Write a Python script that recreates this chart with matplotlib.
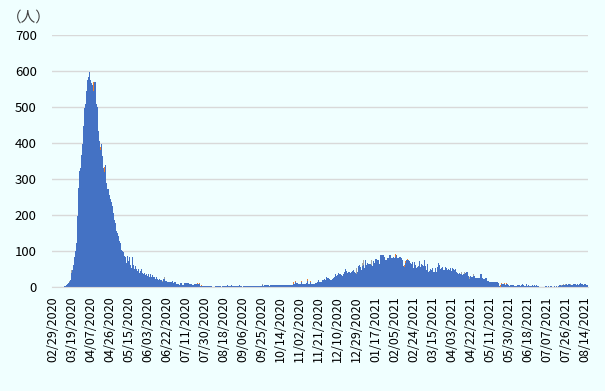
import numpy as np
import pandas as pd
import matplotlib
matplotlib.use('Agg')
import matplotlib.pyplot as plt

plt.rcParams['font.family'] = ['Noto Sans CJK JP', 'DejaVu Sans']

# daily counts from 02/29/2020
start_date = '2020-02-29'
blue_vals = [
    0, 0, 0, 0, 0, 0, 0, 0, 0, 0, 0, 1, 2, 3,
    # spring 2020 wave
    5, 8, 10, 14, 19, 40, 47, 60, 83, 100, 123, 197, 275, 322, 330, 366, 396, 447,
    498, 507, 544, 576, 582, 598, 576, 566, 562, 544, 570, 570, 507, 500, 433, 405,
    380, 398, 363, 331, 320, 339, 289, 271, 271,
    255, 245, 237, 224, 206, 187, 179, 155, 151, 141, 127, 123, 104, 101, 96, 86,
    82, 68, 86, 72, 84, 62, 54, 84, 62, 50, 59, 50, 44, 50, 39, 44, 50, 39, 35, 39,
    32, 37, 30, 37, 27, 35, 29, 32, 27, 27, 21, 29, 23, 19, 23, 19, 19, 13, 21, 22,
    # summer / autumn 2020
    18, 18, 14, 14, 14, 13, 13, 16, 11, 15, 15, 8, 8, 8, 5, 12, 12, 5, 5, 11, 11,
    11, 11, 11, 8, 8, 8, 5, 5, 7, 7, 7, 7, 7, 8, 4, 3, 3, 3, 3, 4, 4, 2, 2, 2, 3, 3,
    1, 0, 1, 2, 2, 3, 3, 3, 2, 0, 2, 2, 4, 4, 4, 6, 3, 3, 3, 5, 4, 4, 4, 2, 4, 4, 4,
    6, 2, 2, 0, 3, 3, 3, 4, 4, 4, 4, 4, 4, 4, 4, 4,
    4, 4, 4, 4, 4, 2, 2, 6, 4, 6, 5, 5, 6, 6, 2, 5, 5, 5, 5, 6, 6, 6, 6, 6, 6, 6,
    6, 6, 6, 5, 5, 5, 5, 6, 6, 6, 6, 6, 9, 9, 13, 12, 12, 7, 7, 8, 13, 7, 7, 8, 7,
    10, 16, 8, 8, 13, 9, 9, 8, 8, 10, 10, 13, 19, 15, 15, 15, 19, 19, 23, 19, 28,
    26, 26, 23, 19, 19, 23, 26, 28, 35, 30, 33, 39, 36, 36, 32, 30, 37, 41, 51, 44,
    40, 42, 42,
    # winter 2020-21 wave
    39, 41, 44, 46, 41, 39, 37, 41, 57, 60, 55, 46, 59, 60, 53, 75, 62, 67, 65, 65,
    65, 62, 57, 71, 67, 79, 79, 76, 76, 65, 88, 90, 88, 88, 84, 76, 75, 81, 80, 90,
    88, 81, 81, 84, 81, 82, 88, 81, 81, 84, 82, 81, 75, 57, 56, 66, 76, 75, 76, 71,
    67, 65, 69, 53, 69, 62, 53, 55, 57, 71, 55, 65, 62, 57, 75, 57, 46, 64, 42, 44,
    51, 48, 54, 41, 43, 53, 43, 55, 67, 62, 51, 53, 55, 48, 48,
    # spring / summer 2021
    55, 54, 48, 49, 46, 53, 44, 52, 49, 46, 49, 41, 39, 36, 40, 35, 36, 34, 37, 37,
    39, 43, 43, 30, 22, 30, 28, 28, 31, 30, 26, 26, 26, 26, 26, 37, 37, 26, 23, 23,
    26, 26, 16, 16, 15, 15, 13, 13, 13, 13, 15, 13, 13, 10, 3, 1, 7, 7, 9, 7, 5, 7,
    9, 5, 3, 6, 6, 6, 6, 2, 3, 3, 5, 5, 5, 3, 6, 7, 5, 2, 4, 7, 3, 5, 3, 2, 3, 5, 3,
    5, 3, 5, 3, 2, 1, 1, 1, 1, 1, 1, 3, 3, 1, 2, 1, 3, 3, 1, 1, 3, 1, 3, 1, 3, 5, 5,
    4, 5, 6, 5, 6, 7, 5, 9, 7, 6, 5, 5, 7, 9, 7, 5, 7, 5, 7, 10, 9, 9, 5, 7, 7, 5, 5,
]

orange_dates = ['2020-04-10', '2020-04-17', '2020-04-21', '2020-07-23', '2020-07-25',
                '2020-07-27', '2020-10-27', '2020-10-29', '2020-11-04', '2020-11-10',
                '2020-11-13', '2021-02-06', '2021-02-11', '2021-02-15', '2021-02-16',
                '2021-02-18', '2021-05-16', '2021-05-22', '2021-05-23', '2021-05-26',
                '2021-05-28']
orange_vals = [26, 8, 14, 3, 4, 3, 4, 4, 5, 6, 4, 11, 2, 4, 5, 4, 2, 4, 3, 3, 3]

gray_dates = ['2020-03-17', '2020-03-19', '2020-06-18', '2020-06-20', '2020-09-26',
              '2020-12-29', '2021-01-04', '2021-01-05', '2021-01-13', '2021-04-13',
              '2021-04-16', '2021-04-21', '2021-04-25', '2021-07-22', '2021-07-24',
              '2021-07-26', '2021-07-31']
gray_vals = [4, 6, 3, 5, 2, 16, 7, 15, 13, 5, 5, 5, 6, 2, 3, 3, 3]

dates = pd.date_range(start_date, periods=len(blue_vals), freq='D')
blue = pd.Series(blue_vals, index=dates, dtype=float)
orange = pd.Series(0.0, index=dates)
orange[pd.to_datetime(orange_dates)] = orange_vals
gray = pd.Series(0.0, index=dates)
gray[pd.to_datetime(gray_dates)] = gray_vals

bg = '#F0FFFF'
fig = plt.figure(figsize=(6.05, 3.91), dpi=100, facecolor=bg)
ax = fig.add_axes([0.086, 0.266, 0.886, 0.6445], facecolor=bg)

x = np.arange(len(dates))
ax.bar(x, blue, width=1.0, color='#4472C4', linewidth=0)
ax.bar(x, orange, width=1.0, bottom=blue, color='#ED7D31', linewidth=0)
ax.bar(x, gray, width=1.0, bottom=blue + orange, color='#A5A5A5', linewidth=0)

ax.set_xlim(-0.5, len(dates) - 0.5)
ax.set_ylim(0, 700)
ax.set_yticks(range(0, 701, 100))
ax.grid(axis='y', color='#D9D9D9', linewidth=1)
ax.set_axisbelow(True)

ticks = x[::19]
ax.set_xticks(ticks)
ax.set_xticklabels([dates[i].strftime('%m/%d/%Y') for i in ticks], rotation=90)

for s in ['top', 'right', 'left']:
    ax.spines[s].set_visible(False)
ax.spines['bottom'].set_color('#D9D9D9')
ax.tick_params(axis='y', length=0, pad=11, labelsize=9.5)
ax.tick_params(axis='x', length=0, pad=7, labelsize=9)

fig.text(0.012, 0.955, '（人）', fontsize=10.5, color='#404040', va='center', ha='left')

fig.savefig('out.png', dpi=100, facecolor=bg)
